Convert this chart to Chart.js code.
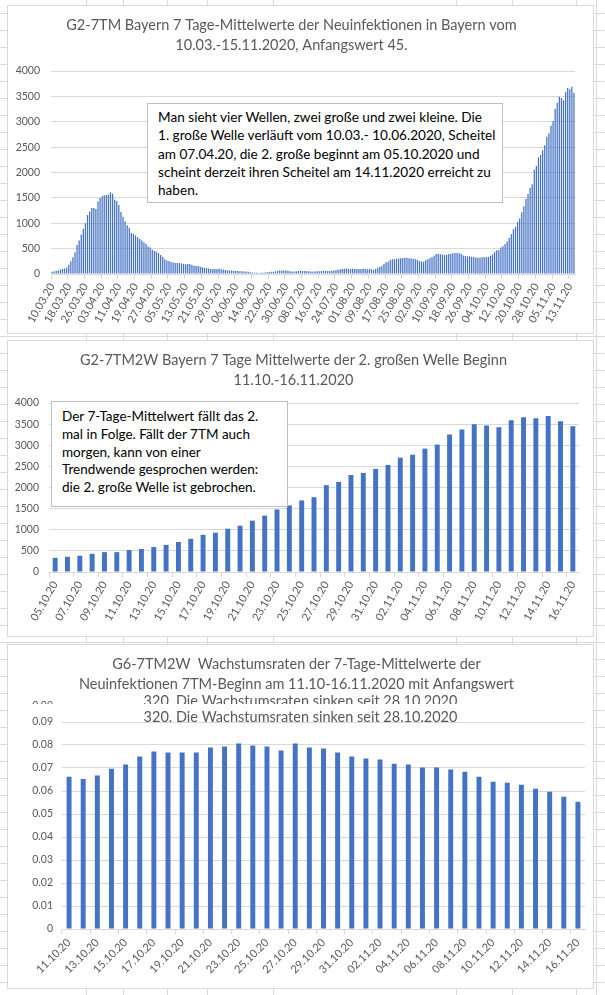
<!DOCTYPE html>
<html>
<head>
<meta charset="utf-8">
<script src="https://cdn.jsdelivr.net/npm/chart.js@4.4.1/dist/chart.umd.min.js"></script>
<style>
    html, body { margin: 0; padding: 0; }
    body {
        width: 605px; height: 995px; position: relative; overflow: hidden; background-color: #fff;
        background-image: linear-gradient(to bottom, transparent 16px, #dadada 16px);
        background-size: 100% 17px;
        background-position: 0 -3px;
    }
    .col { position: absolute; top: 0; width: 1px; height: 995px; background: #dadada; }
    .panel { position: absolute; left: 7px; width: 585px; background: #fff; border: 1px solid #d9d9d9; z-index: 1; }
    .panel canvas { display: block; }
    .note {
        position: absolute; z-index: 2; box-sizing: border-box; background: #fff; border: 1px solid #bfbfbf;
        font-family: Lato, "Open Sans", sans-serif; color: #000; white-space: nowrap;
    }
</style>
</head>
<body>

<div class="col" style="left:86px"></div>
<div class="col" style="left:123px"></div>
<div class="col" style="left:167px"></div>
<div class="col" style="left:207px"></div>
<div class="col" style="left:273px"></div>
<div class="col" style="left:456px"></div>
<div class="col" style="left:512px"></div>
<div class="col" style="left:576px"></div>
<div class="col" style="left:596px"></div>

<div class="panel" style="top:5px;height:327px"><canvas id="chartWave" width="585" height="327"></canvas></div>
<div class="panel" style="top:340px;height:295px"><canvas id="chartSecond" width="585" height="295"></canvas></div>
<div class="panel" style="top:644px;height:343px"><canvas id="chartGrowth" width="585" height="343"></canvas></div>

<div class="note" style="left:147px;top:103px;width:356px;height:100px;padding:4px 0 0 10px;font-size:13.6px;line-height:18.3px">
Man sieht vier Wellen, zwei große und zwei kleine. Die<br>
1. große Welle verläuft vom 10.03.- 10.06.2020, Scheitel<br>
am 07.04.20, die 2. große beginnt am 05.10.2020 und<br>
scheint derzeit ihren Scheitel am 14.11.2020 erreicht zu<br>
haben.
</div>

<div class="note" style="left:51px;top:401px;width:237px;height:106px;padding:6px 0 0 10px;font-size:13.5px;line-height:17.8px">
Der 7-Tage-Mittelwert fällt das 2.<br>
mal in Folge. Fällt der 7TM auch<br>
morgen, kann von einer<br>
Trendwende gesprochen werden:<br>
die 2. große Welle ist gebrochen.
</div>

<script>
// 7-Tage-Mittelwerte Bayern, 10.03.-15.11.2020 (one value per day)
const waveValues = [
    45, 50, 62, 68, 88, 100, 108, 125,
    180, 250, 330, 430, 570, 660, 780, 890,
    1000, 1160, 1230, 1300, 1300, 1280, 1430, 1500,
    1530, 1550, 1555, 1565, 1610, 1580, 1470, 1440,
    1360, 1220, 1130, 1040, 960, 910, 810, 790,
    760, 725, 690, 660, 625, 590, 540, 520,
    480, 455, 440, 415, 375, 340, 290, 265,
    255, 237, 225, 218, 215, 215, 210, 198,
    190, 198, 195, 178, 165, 160, 158, 145,
    132, 120, 118, 108, 100, 100, 98, 100,
    102, 95, 90, 80, 75, 70, 68, 62,
    60, 58, 55, 52, 50, 48, 45, 35,
    28, 25, 24, 22, 23, 25, 30, 35,
    40, 42, 45, 55, 62, 68, 70, 70,
    68, 65, 55, 50, 48, 52, 60, 65,
    62, 58, 55, 52, 50, 48, 50, 52,
    55, 58, 60, 62, 60, 58, 62, 68,
    75, 85, 95, 100, 102, 105, 102, 100,
    102, 105, 100, 100, 98, 102, 100, 95,
    100, 95, 80, 100, 125, 145, 165, 200,
    230, 240, 275, 290, 290, 300, 305, 310,
    315, 320, 318, 312, 305, 300, 290, 275,
    255, 245, 240, 270, 290, 310, 330, 360,
    395, 400, 390, 385, 375, 380, 395, 400,
    410, 415, 415, 410, 395, 365, 355, 350,
    345, 335, 330, 325, 320, 322, 328, 335,
    330, 335, 360, 385, 430, 470, 470, 520,
    545, 590, 640, 710, 785, 880, 930, 1025,
    1095, 1215, 1335, 1480, 1575, 1695, 1770, 2055,
    2130, 2295, 2345, 2440, 2535, 2705, 2775, 2920,
    3015, 3255, 3375, 3495, 3470, 3425, 3590, 3665,
    3640, 3690, 3570
];
// 2. große Welle, 05.10.-16.11.2020
const secondValues = [
    335, 360, 385, 430, 470, 470, 520, 545, 590, 640, 710, 785, 880, 930, 1025,
    1095, 1215, 1335, 1480, 1575, 1695, 1770, 2055, 2130, 2295, 2345, 2440, 2535,
    2705, 2775, 2920, 3015, 3255, 3375, 3495, 3470, 3425, 3590, 3665, 3640, 3690,
    3570, 3450
];
// Wachstumsraten 11.10.-16.11.2020
const growthValues = [
    0.0662, 0.0652, 0.0667, 0.0697, 0.0715, 0.0750, 0.0772, 0.0767, 0.0767, 0.0767,
    0.0789, 0.0793, 0.0807, 0.0798, 0.0793, 0.0776, 0.0807, 0.0789, 0.0785, 0.0767,
    0.0750, 0.0741, 0.0737, 0.0719, 0.0715, 0.0702, 0.0702, 0.0693, 0.0684, 0.0662,
    0.0640, 0.0636, 0.0627, 0.0610, 0.0597, 0.0575, 0.0553
];

const waveStart = '2020-03-10';
const secondStart = '2020-10-05';
const growthStart = '2020-10-11';

const waveLabelStep = 8;
const secondLabelStep = 2;
const growthLabelStep = 2;

const waveTitle = ['G2-7TM Bayern 7 Tage-Mittelwerte der Neuinfektionen in Bayern vom', '10.03.-15.11.2020, Anfangswert 45.'];
const secondTitle = ['G2-7TM2W Bayern 7 Tage Mittelwerte der 2. großen Welle Beginn', '11.10.-16.11.2020'];
const growthTitle = ['G6-7TM2W  Wachstumsraten der 7-Tage-Mittelwerte der', 'Neuinfektionen 7TM-Beginn am 11.10-16.11.2020 mit Anfangswert'];
const growthTitleLast = '320. Die Wachstumsraten sinken seit 28.10.2020';

const FONT = 'Lato, "Open Sans", sans-serif';
const GRID = '#d9d9d9';
const TEXT = '#595959';
const BAR = '#4472c4';
const TITLE_SIZE = 14.5;
const TITLE_FONT = { family: FONT, size: TITLE_SIZE, weight: 'normal', lineHeight: '20px' };

function dayLabels(start, count) {
    const out = [];
    const d = new Date(start + 'T12:00:00');
    for (let i = 0; i < count; i++) {
        const dd = String(d.getDate()).padStart(2, '0');
        const mm = String(d.getMonth() + 1).padStart(2, '0');
        out.push(dd + '.' + mm + '.' + String(d.getFullYear()).slice(2));
        d.setDate(d.getDate() + 1);
    }
    return out;
}

function makeChart(id, labels, values, s) {
    return new Chart(document.getElementById(id), {
        type: 'bar',
        data: {
            labels: labels,
            datasets: [{ data: values, backgroundColor: BAR, barPercentage: s.barPct, categoryPercentage: 1 }]
        },
        options: {
            responsive: false,
            animation: false,
            events: [],
            layout: { padding: { left: 0, right: s.rightPad, top: 0, bottom: 0 } },
            plugins: {
                legend: { display: false },
                tooltip: { enabled: false },
                title: {
                    display: true, text: s.title, color: TEXT, font: TITLE_FONT,
                    padding: { top: 9, bottom: s.titleGap }
                }
            },
            scales: {
                x: {
                    grid: {
                        drawOnChartArea: false, drawTicks: true, tickLength: 5, offset: true,
                        tickColor: c => (c.index % s.step === 0 ? GRID : 'rgba(0,0,0,0)')
                    },
                    border: { display: true, color: GRID },
                    ticks: {
                        autoSkip: false, minRotation: s.rot, maxRotation: s.rot, padding: 2,
                        color: TEXT, font: { family: FONT, size: 11 },
                        callback: function (v, i) { return i % s.step === 0 ? this.getLabelForValue(v) : ''; }
                    },
                    afterFit: sc => { sc.height = s.xHeight; }
                },
                y: {
                    min: 0, max: s.yMax,
                    grid: { color: GRID, drawTicks: false },
                    border: { display: false },
                    ticks: {
                        stepSize: s.yStep, padding: s.yPad, color: TEXT,
                        font: { family: FONT, size: 10.5 }, callback: s.fmt
                    },
                    afterFit: sc => { sc.width = s.yWidth; }
                }
            }
        },
        plugins: s.extra || []
    });
}

// the third title line shows up twice in the screenshot (upper copy cut off)
const ghostTitle = {
    id: 'ghostTitle',
    afterDraw(chart) {
        const c = chart.ctx;
        const cx = chart.width / 2;
        const y = chart.scales.y;
        c.save();
        c.fillStyle = TEXT;
        c.textBaseline = 'middle';
        c.save();
        c.beginPath();
        c.rect(0, 0, chart.width, 59);
        c.clip();
        c.font = TITLE_SIZE + 'px ' + FONT;
        c.textAlign = 'center';
        c.fillText(growthTitleLast, cx, 56);
        c.font = '10.5px ' + FONT;
        c.textAlign = 'right';
        c.fillText('0.09', y.right - 9, y.getPixelForValue(0.09) - 16);
        c.restore();
        c.font = TITLE_SIZE + 'px ' + FONT;
        c.textAlign = 'center';
        c.fillText(growthTitleLast, cx, 72);
        c.restore();
    }
};

document.addEventListener('DOMContentLoaded', function () {
    makeChart('chartWave', dayLabels(waveStart, waveValues.length), waveValues, {
        title: waveTitle, titleGap: 16, yMax: 4000, yStep: 500, yWidth: 43, yPad: 11,
        xHeight: 59, rightPad: 18, step: waveLabelStep, rot: 60, barPct: 0.6
    });

    makeChart('chartSecond', dayLabels(secondStart, secondValues.length), secondValues, {
        title: secondTitle, titleGap: 13, yMax: 4000, yStep: 500, yWidth: 41, yPad: 10,
        xHeight: 64, rightPad: 14, step: secondLabelStep, rot: 60, barPct: 0.4
    });

    makeChart('chartGrowth', dayLabels(growthStart, growthValues.length), growthValues, {
        title: growthTitle, titleGap: 28, yMax: 0.09, yStep: 0.01, yWidth: 54, yPad: 9,
        xHeight: 59, rightPad: 8, step: growthLabelStep, rot: 45, barPct: 0.35,
        fmt: v => (v === 0 ? '0' : v.toFixed(2)),
        extra: [ghostTitle]
    });
});
</script>
</body>
</html>
